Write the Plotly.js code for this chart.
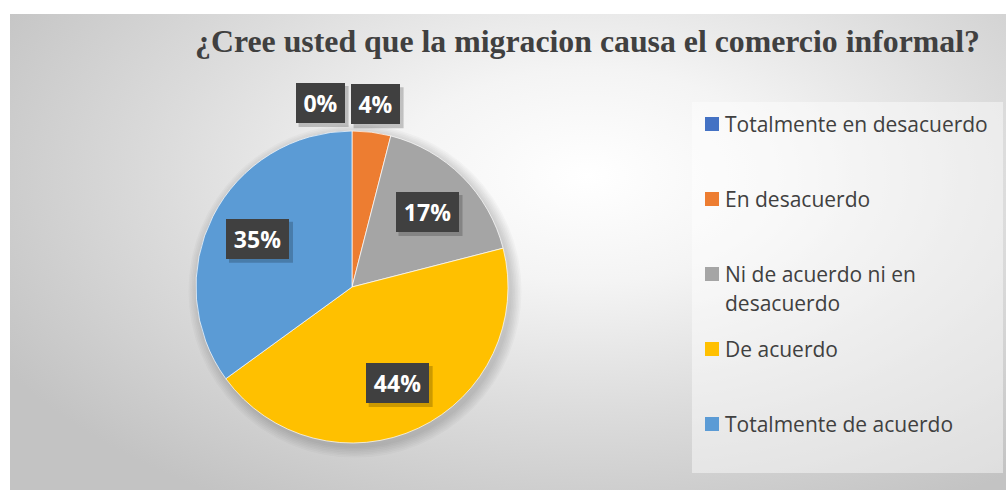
<!DOCTYPE html>
<html><head><meta charset="utf-8">
<script src="https://cdn.plot.ly/plotly-3.0.1.min.js"></script>
<style>
html,body{margin:0;padding:0;background:#fff;}
#wrap{position:relative;width:1006px;height:490px;overflow:hidden;}
#bg{position:absolute;left:10px;top:14px;width:996px;height:476px;
  background:radial-gradient(ellipse 68% 80% at 58% 34%, #ffffff 0%, #f4f4f4 28%, #dcdcdc 62%, #c3c3c3 100%);}
#chart{position:absolute;left:0;top:0;width:1006px;height:490px;}
</style></head><body>
<div id="wrap"><div id="bg"></div><div id="chart"></div></div>
<script>
const categories = ["Totalmente en desacuerdo", "En desacuerdo", "Ni de acuerdo ni en desacuerdo", "De acuerdo", "Totalmente de acuerdo"];
const percentages = [0, 4, 17, 44, 35];
const sliceColors = ["#4472C4", "#ED7D31", "#A5A5A5", "#FFC000", "#5B9BD5"];
const titleText = "¿Cree usted que la migracion causa el comercio informal?";

const W = 1006, H = 490;
const cx = 352, cy = 287, R = 156;
const px2x = p => p / W, px2y = p => 1 - p / H;

function wrap(s, maxLen) {
  if (s.length <= maxLen) return [s];
  const cut = s.lastIndexOf(" ", maxLen);
  return [s.slice(0, cut), s.slice(cut + 1)];
}

const annotations = [];
const shapes = [];

// legend panel
const leg = {left: 692, top: 102, right: 1003, bottom: 473, firstY: 124, step: 75, lineGap: 29};
shapes.push({type: "rect", xref: "paper", yref: "paper", layer: "below",
  x0: px2x(leg.left), x1: px2x(leg.right), y0: px2y(leg.bottom), y1: px2y(leg.top),
  fillcolor: "rgba(255,255,255,0.45)", line: {width: 0}});
categories.forEach((c, i) => {
  const yc = leg.firstY + i * leg.step;
  shapes.push({type: "rect", xref: "paper", yref: "paper",
    x0: px2x(705), x1: px2x(719), y0: px2y(yc + 7), y1: px2y(yc - 7),
    fillcolor: sliceColors[i], line: {width: 0}});
  wrap(c, 26).forEach((t, j) => {
    annotations.push({x: px2x(723), y: px2y(yc + j * leg.lineGap), xref: "paper", yref: "paper",
      xanchor: "left", yanchor: "middle", showarrow: false, text: t,
      font: {family: "Open Sans", size: 21, color: "#404040"}});
  });
});

// soft pie shadow
for (let s = 0; s < 7; s++) {
  const rr = R + 1 + s * 1.6;
  shapes.push({type: "circle", xref: "paper", yref: "paper", layer: "below",
    x0: px2x(cx + 3 - rr), x1: px2x(cx + 3 + rr), y0: px2y(cy + 4 + rr), y1: px2y(cy + 4 - rr),
    fillcolor: "rgba(0,0,0,0.025)", line: {width: 0}});
}

// data labels, positioned from the slice angles
const total = percentages.reduce((a, b) => a + b, 0);
let cum = 0;
const labelInfo = percentages.map(v => {
  const mid = (cum + v / 2) / total * 2 * Math.PI;
  cum += v;
  const outside = v / total < 0.1;
  const k = outside ? 1.18 : 0.68;
  const w = 14 * (v + "%").length + 11;
  return {text: v + "%", px: cx + k * R * Math.sin(mid), py: cy - k * R * Math.cos(mid), outside, w};
});
for (let i = labelInfo.length - 2; i >= 0; i--) {
  const a = labelInfo[i], b = labelInfo[i + 1];
  if (a.outside && b.outside) {
    const minDist = (a.w + b.w) / 2 + 16;
    if (b.px - a.px < minDist && Math.abs(a.py - b.py) < 40) a.px = b.px - minDist;
  }
}
labelInfo.forEach(l => {
  const bw = l.w + 10, bh = 40;
  shapes.push({type: "rect", xref: "paper", yref: "paper", layer: "above",
    x0: px2x(l.px - bw / 2 + 3), x1: px2x(l.px + bw / 2 + 4), y0: px2y(l.py + bh / 2 + 4), y1: px2y(l.py - bh / 2 + 3),
    fillcolor: "rgba(0,0,0,0.2)", line: {width: 0}});
  annotations.push({x: px2x(l.px), y: px2y(l.py), xref: "paper", yref: "paper", xanchor: "center", yanchor: "middle",
    showarrow: false, width: l.w, height: 30, borderpad: 5, borderwidth: 0, text: l.text, bgcolor: "#404040",
    font: {family: "Open Sans", size: 23, weight: "bold", color: "#ffffff"}});
});

const trace = {
  type: "pie",
  labels: categories,
  values: percentages,
  sort: false,
  direction: "clockwise",
  rotation: 0,
  textinfo: "none",
  hoverinfo: "skip",
  marker: {colors: sliceColors, line: {color: "rgba(255,255,255,0.7)", width: 1}},
  domain: {x: [px2x(cx - R), px2x(cx + R)], y: [px2y(cy + R), px2y(cy - R)]}
};

const layout = {
  width: W, height: H,
  margin: {l: 0, r: 0, t: 0, b: 0},
  paper_bgcolor: "rgba(0,0,0,0)",
  plot_bgcolor: "rgba(0,0,0,0)",
  title: {text: titleText, x: px2x(587.5), xanchor: "center", xref: "paper", y: px2y(41), yref: "paper", yanchor: "middle",
    font: {family: "Liberation Serif", size: 31.8, weight: "bold", color: "#404040"}},
  showlegend: false,
  shapes: shapes,
  annotations: annotations
};

Plotly.newPlot("chart", [trace], layout, {displayModeBar: false, staticPlot: true});
</script>
</body></html>
